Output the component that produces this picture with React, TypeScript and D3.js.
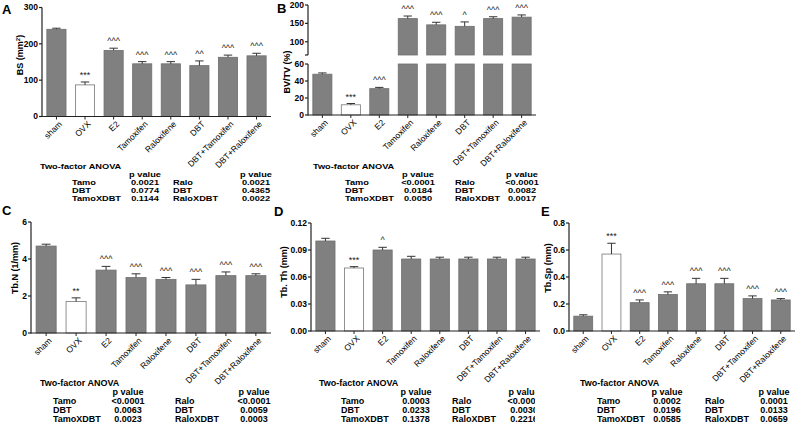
import React from 'react';
import { scaleBand, scaleLinear } from 'd3';

const groups = ['sham', 'OVX', 'E2', 'Tamoxifen', 'Raloxifene', 'DBT', 'DBT+Tamoxifen', 'DBT+Raloxifene'];

const bsMean = [240, 87, 182, 145, 145, 140, 163, 167];
const bsErr = [3, 8, 6, 6, 6, 13, 6, 7];
const bsMarks = ['', '***', '^^^', '^^^', '^^^', '^^', '^^^', '^^^'];
const bsTicks = [0, 100, 200, 300];

const bvMean = [48, 12, 31, 163, 146, 142, 163, 167];
const bvErr = [1.5, 1.5, 1.5, 7, 7, 12, 5, 6];
const bvMarks = ['', '***', '^^^', '^^^', '^^^', '^', '^^^', '^^^'];
const bvLowTicks = [0, 20, 40, 60];
const bvHighTicks = [100, 150, 200];

const tbnMean = [4.7, 1.7, 3.4, 3.0, 2.9, 2.6, 3.1, 3.1];
const tbnErr = [0.1, 0.2, 0.2, 0.2, 0.1, 0.3, 0.2, 0.1];
const tbnMarks = ['', '**', '^^^', '^^^', '^^^', '^^^', '^^^', '^^^'];
const tbnTicks = [0, 2, 4, 6];

const tbthMean = [0.1, 0.07, 0.09, 0.08, 0.08, 0.08, 0.08, 0.08];
const tbthErr = [0.003, 0.0015, 0.003, 0.003, 0.002, 0.002, 0.002, 0.002];
const tbthMarks = ['', '***', '^', '', '', '', '', ''];
const tbthTicks = [0, 0.03, 0.06, 0.09, 0.12];

const tbspMean = [0.11, 0.57, 0.21, 0.27, 0.35, 0.35, 0.24, 0.23];
const tbspErr = [0.01, 0.08, 0.02, 0.02, 0.04, 0.04, 0.02, 0.01];
const tbspMarks = ['', '***', '^^^', '^^^', '^^^', '^^^', '^^^', '^^^'];
const tbspTicks = [0, 0.2, 0.4, 0.6, 0.8];

const tamoTerms = ['Tamo', 'DBT', 'TamoXDBT'];
const raloTerms = ['Ralo', 'DBT', 'RaloXDBT'];
const pA_tamo = ['0.0021', '0.0774', '0.1144'];
const pA_ralo = ['0.0021', '0.4365', '0.0022'];
const pB_tamo = ['<0.0001', '0.0184', '0.0050'];
const pB_ralo = ['<0.0001', '0.0082', '0.0017'];
const pC_tamo = ['<0.0001', '0.0063', '0.0023'];
const pC_ralo = ['<0.0001', '0.0059', '0.0003'];
const pD_tamo = ['0.0003', '0.0233', '0.1378'];
const pD_ralo = ['<0.0001', '0.0030', '0.2216'];
const pE_tamo = ['0.0002', '0.0196', '0.0585'];
const pE_ralo = ['0.0001', '0.0133', '0.0659'];

const FONT = '"Liberation Sans", Arial, sans-serif';
const BAR = '#808080';

type Seg = { domain: [number, number]; range: [number, number]; ticks: number[]; breakTick?: boolean };

const Panel = ({ xRange, segs, fmt, means, errs, marks, title, titleX, titleY, label, labelX, labelY }: any) => {
  const x = scaleBand().domain(groups).range(xRange).paddingInner(0.33).paddingOuter(0.17);
  const bw = x.bandwidth();
  const axisX = xRange[0];
  const base = segs[0].range[0];
  const scales = segs.map((s: Seg) => scaleLinear().domain(s.domain).range(s.range));
  return (
    <g>
      <text x={labelX} y={labelY} fontSize={13} fontWeight='bold' fontFamily={FONT}>{label}</text>
      <text transform={`translate(${titleX},${titleY}) rotate(-90)`} textAnchor='middle' fontSize={9} fontWeight='bold' fontFamily={FONT}>
        {title}
      </text>
      {segs.map((s: Seg, si: number) => {
        const y = scales[si];
        return (
          <g key={si}>
            {means.map((m: number, i: number) => {
              if (m <= s.domain[0]) return null;
              const top = y(Math.min(m, s.domain[1]));
              const bot = y(s.domain[0]);
              return (
                <rect key={i} x={x(groups[i])} y={top} width={bw} height={bot - top}
                  fill={i === 1 ? '#fff' : BAR} stroke={i === 1 ? '#777' : '#6e6e6e'} strokeWidth={0.8} />
              );
            })}
            {means.map((m: number, i: number) => {
              if (m <= s.domain[0] || m > s.domain[1]) return null;
              const cx = x(groups[i])! + bw / 2;
              const yt = y(m + errs[i]);
              return (
                <g key={'e' + i}>
                  <line x1={cx} x2={cx} y1={y(m)} y2={yt} stroke='#333' strokeWidth={1} />
                  <line x1={cx - bw * 0.22} x2={cx + bw * 0.22} y1={yt} y2={yt} stroke='#333' strokeWidth={1} />
                  {marks[i] && (
                    <text x={cx} y={yt - 4} textAnchor='middle' fontSize={9} fontFamily={FONT} fill='#222'>{marks[i]}</text>
                  )}
                </g>
              );
            })}
            <line x1={axisX} x2={axisX} y1={s.range[0] + (si === 0 ? 0.5 : 0)} y2={s.range[1]} stroke='#222' strokeWidth={1.2} />
            {s.breakTick && <line x1={axisX - 3} x2={axisX} y1={s.range[0]} y2={s.range[0]} stroke='#222' strokeWidth={1.2} />}
            {s.ticks.map(t => (
              <g key={t}>
                <line x1={axisX - 3} x2={axisX} y1={y(t)} y2={y(t)} stroke='#222' strokeWidth={1.2} />
                <text x={axisX - 4} y={y(t)} dy='0.35em' textAnchor='end' fontSize={8.5} fontWeight='bold' fontFamily={FONT}>
                  {fmt(t)}
                </text>
              </g>
            ))}
          </g>
        );
      })}
      <line x1={axisX} x2={xRange[1]} y1={base} y2={base} stroke='#222' strokeWidth={1.2} />
      {groups.map(g => {
        const cx = x(g)! + bw / 2;
        return (
          <g key={g}>
            <line x1={cx} x2={cx} y1={base} y2={base + 3} stroke='#222' strokeWidth={1} />
            <text transform={`translate(${cx + 4},${base + 6}) rotate(-45)`} dy='0.35em' textAnchor='end' fontSize={8.5} fontFamily={FONT}>
              {g}
            </text>
          </g>
        );
      })}
    </g>
  );
};

// text squeezed vertically in the top tables: smaller font, stretched horizontally
const T = ({ x, y, sx, anchor, children }: any) => (
  <text transform={`translate(${x},${y}) scale(${sx},1)`} textAnchor={anchor || 'start'}>{children}</text>
);

const Anova = ({ x, y, termX, pX, raloX, rX, gap, fs, sx, tamoP, raloP, clip }: any) => (
  <g fontFamily={FONT} fontWeight='bold' fontSize={fs} clipPath={clip}>
    <T x={x} y={y} sx={sx}>Two-factor ANOVA</T>
    <T x={pX} y={y + gap} sx={sx} anchor='middle'>p value</T>
    <T x={rX} y={y + gap} sx={sx} anchor='middle'>p value</T>
    {tamoTerms.map((t, i) => (
      <g key={t}>
        <T x={termX} y={y + gap * (i + 2)} sx={sx}>{t}</T>
        <T x={pX} y={y + gap * (i + 2)} sx={sx} anchor='middle'>{tamoP[i]}</T>
        <T x={raloX} y={y + gap * (i + 2)} sx={sx}>{raloTerms[i]}</T>
        <T x={rX} y={y + gap * (i + 2)} sx={sx} anchor='middle'>{raloP[i]}</T>
      </g>
    ))}
  </g>
);

const fmt0 = (d: number) => String(d);
const fmt2 = (d: number) => d.toFixed(2);
const fmt1 = (d: number) => d.toFixed(1);

export default function App() {
  return (
    <svg width={800} height={430} style={{ position: 'absolute', left: 0, top: 0, background: '#fff' }}>
      <defs>
        <clipPath id='clipD'><rect x={260} y={360} width={275} height={70} /></clipPath>
      </defs>
      <Panel xRange={[42, 271]} segs={[{ domain: [0, 300], range: [116.5, 7.5], ticks: bsTicks }]} fmt={fmt0}
        means={bsMean} errs={bsErr} marks={bsMarks}
        title={<>BS (mm<tspan dy={-3} fontSize={6}>2</tspan><tspan dy={3}>)</tspan></>}
        titleX={23} titleY={55} label='A' labelX={2} labelY={14} />
      <Panel xRange={[308, 536]} segs={[
        { domain: [0, 60], range: [115, 64], ticks: bvLowTicks },
        { domain: [64, 200], range: [55, 5], ticks: bvHighTicks, breakTick: true },
      ]} fmt={fmt0} means={bvMean} errs={bvErr} marks={bvMarks}
        title='BV/TV (%)' titleX={290} titleY={72} label='B' labelX={277} labelY={13} />
      <Panel xRange={[31, 271]} segs={[{ domain: [0, 6], range: [333, 222], ticks: tbnTicks }]} fmt={fmt0}
        means={tbnMean} errs={tbnErr} marks={tbnMarks}
        title='Tb.N (1/mm)' titleX={18} titleY={268} label='C' labelX={2} labelY={215} />
      <Panel xRange={[311, 540]} segs={[{ domain: [0, 0.12], range: [331, 223], ticks: tbthTicks }]} fmt={fmt2}
        means={tbthMean} errs={tbthErr} marks={tbthMarks}
        title='Tb. Th (mm)' titleX={287} titleY={272} label='D' labelX={274} labelY={216} />
      <Panel xRange={[569, 795]} segs={[{ domain: [0, 0.8], range: [331, 223], ticks: tbspTicks }]} fmt={fmt1}
        means={tbspMean} errs={tbspErr} marks={tbspMarks}
        title='Tb.Sp (mm)' titleX={551} titleY={268} label='E' labelX={541} labelY={216} />
      <Anova x={40} y={168.5} termX={72} pX={145} raloX={173} rX={256} gap={8} fs={8.1} sx={1.14} tamoP={pA_tamo} raloP={pA_ralo} />
      <Anova x={313} y={168.5} termX={345} pX={418} raloX={455} rX={522} gap={8} fs={8.1} sx={1.14} tamoP={pB_tamo} raloP={pB_ralo} />
      <Anova x={40} y={386} termX={53} pX={128} raloX={175} rX={254} gap={9} fs={9} sx={1} tamoP={pC_tamo} raloP={pC_ralo} />
      <Anova x={319} y={386} termX={341} pX={416} raloX={452} rX={524} gap={9} fs={9} sx={1} tamoP={pD_tamo} raloP={pD_ralo} clip='url(#clipD)' />
      <Anova x={580} y={386} termX={597} pX={667} raloX={705} rX={774} gap={9} fs={9} sx={1} tamoP={pE_tamo} raloP={pE_ralo} />
    </svg>
  );
}
